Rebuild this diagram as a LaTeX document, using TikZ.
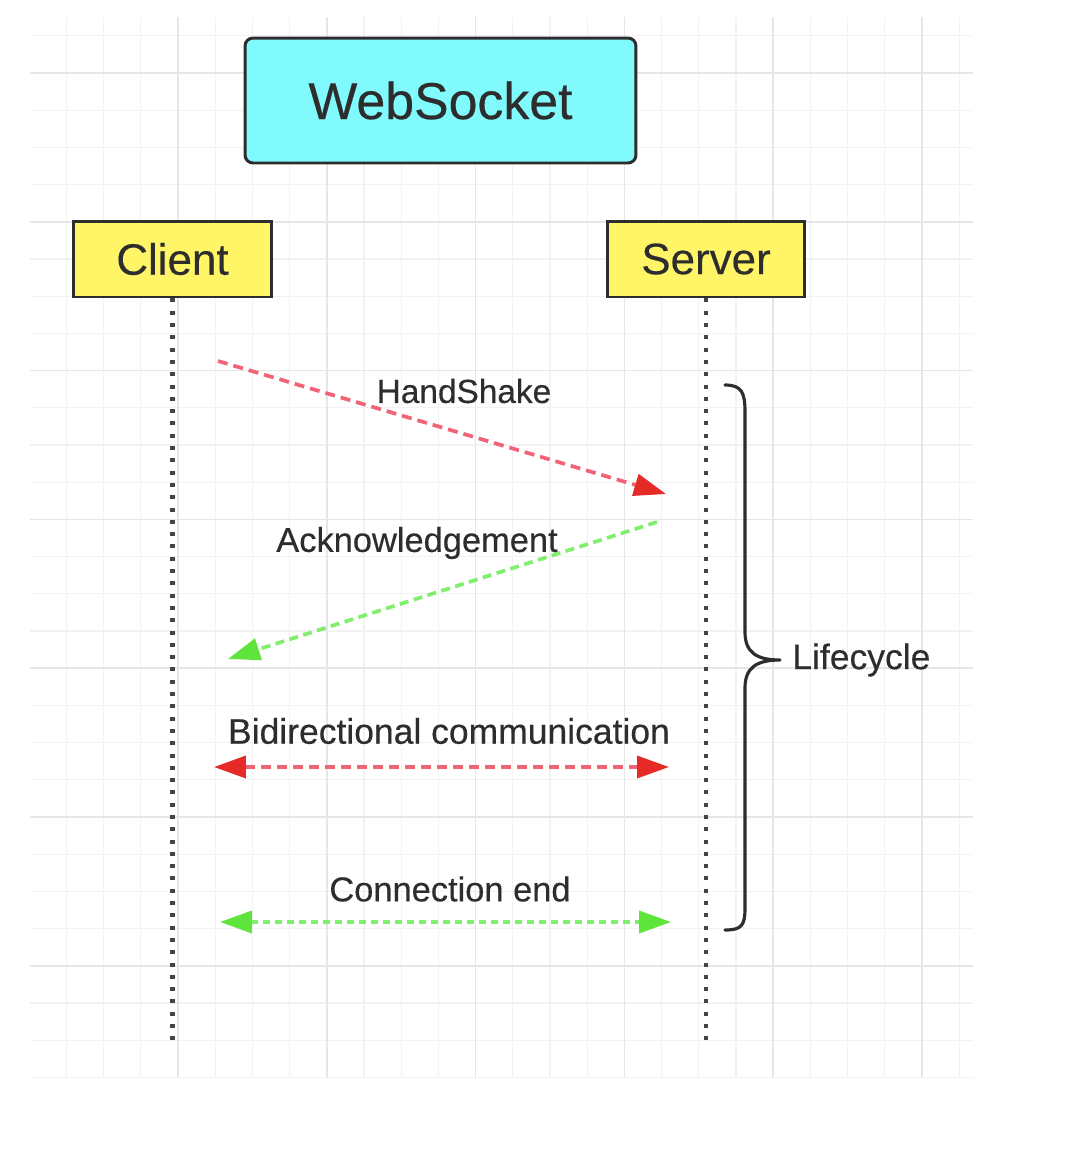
\documentclass[tikz,border=0pt]{standalone}
\usepackage{fontspec}
\setmainfont[FakeBold=0.35]{Liberation Sans}
\usetikzlibrary{arrows.meta}
\definecolor{gridminor}{RGB}{242,242,242}
\definecolor{gridmajor}{RGB}{230,230,230}
\definecolor{boxcyan}{RGB}{128,250,252}
\definecolor{boxyellow}{RGB}{255,245,102}
\definecolor{ink}{RGB}{45,45,45}
\definecolor{dotink}{RGB}{68,68,68}
\definecolor{redline}{RGB}{240,100,118}
\definecolor{redtip}{RGB}{230,42,40}
\definecolor{greenline}{RGB}{130,238,110}
\definecolor{greentip}{RGB}{95,228,60}
\begin{document}
\begin{tikzpicture}[x=0.02cm,y=-0.02cm,
  titlebox/.style={draw=ink, line width=1.7pt, fill=boxcyan, rounded corners=0.16cm,
    minimum width=7.82cm, minimum height=2.5cm, text=ink, font=\fontsize{29.5}{34}\selectfont},
  actorbox/.style={draw=ink, line width=1.7pt, fill=boxyellow,
    minimum width=3.96cm, minimum height=1.52cm, text=ink, font=\fontsize{25}{30}\selectfont},
  lifeline/.style={draw=dotink, line width=2.6pt, dash pattern=on 0.08cm off 0.166cm},
  msglabel/.style={text=ink, font=\fontsize{19.6}{23}\selectfont, inner sep=0pt},
  redmsg/.style={draw=redline, line width=2.1pt, dash pattern=on 0.2cm off 0.12cm,
    -{Triangle[length=0.64cm,width=0.44cm,color=redtip]}},
  greenmsg/.style={draw=greenline, line width=2.1pt, dash pattern=on 0.18cm off 0.11cm,
    -{Triangle[length=0.64cm,width=0.44cm,color=greentip]}},
  redbi/.style={redmsg, {Triangle[length=0.64cm,width=0.44cm,color=redtip]}-{Triangle[length=0.64cm,width=0.44cm,color=redtip]}},
  greenbi/.style={greenmsg, dash pattern=on 0.14cm off 0.1cm, {Triangle[length=0.64cm,width=0.44cm,color=greentip]}-{Triangle[length=0.64cm,width=0.44cm,color=greentip]}},
  bracestyle/.style={draw=ink, line width=1.8pt, line cap=round, line join=round}
]
\useasboundingbox[fill=white] (0,0) rectangle (1082,1154);
% grid
\begin{scope}
\clip (30,17) rectangle (973,1078);
\foreach \k in {-3,...,21} {
  \draw[gridminor, line width=0.6pt] ({178+37.2*\k},17) -- ({178+37.2*\k},1078);
}
\foreach \k in {-1,...,27} {
  \draw[gridminor, line width=0.6pt] (30,{73+37.2*\k}) -- (973,{73+37.2*\k});
}
\foreach \k in {0,...,5} {
  \draw[gridmajor, line width=1pt] ({178+148.8*\k},17) -- ({178+148.8*\k},1078);
}
\foreach \k in {0,...,6} {
  \draw[gridmajor, line width=1pt] (30,{73+148.8*\k}) -- (973,{73+148.8*\k});
}
\end{scope}

% boxes
\node[titlebox] (title) at (440.5,100.5) {WebSocket};
\node[actorbox] (client) at (172.5,259) {Client};
\node[actorbox] (server) at (706,259) {Server};

% lifelines
\coordinate (clientend) at (172.5,1043);
\coordinate (serverend) at (706,1043);
\draw[lifeline] (client.south) -- (clientend);
\draw[lifeline] (server.south) -- (serverend);

% messages
\coordinate (hsA) at (218,361);
\coordinate (hsB) at (666,494);
\draw[redmsg] (hsA) -- (hsB);
\node[msglabel, font=\fontsize{19}{23}\selectfont] (hslabel) at (464,391) {HandShake};

\coordinate (ackA) at (657,522);
\coordinate (ackB) at (228,659);
\draw[greenmsg] (ackA) -- (ackB);
\node[msglabel] (acklabel) at (417,543) {Acknowledgement};

\coordinate (biA) at (214,767);
\coordinate (biB) at (669,767);
\draw[redbi] (biA) -- (biB);
\node[msglabel, font=\fontsize{20.2}{24}\selectfont] (bilabel) at (449,731) {Bidirectional communication};

\coordinate (endA) at (220,922);
\coordinate (endB) at (671,922);
\draw[greenbi] (endA) -- (endB);
\node[msglabel] (endlabel) at (450,889) {Connection end};

% brace
\coordinate (braceTop) at (725,385);
\coordinate (braceTip) at (780,660);
\coordinate (braceBot) at (725,930);
\draw[bracestyle] (braceTop) .. controls (742,385) and (745,393) .. (745,412)
  -- (745,632) .. controls (745,652) and (756,660) .. (braceTip)
  .. controls (756,660) and (745,668) .. (745,688)
  -- (745,908) .. controls (745,925) and (742,930) .. (braceBot);
\node[msglabel, font=\fontsize{20.2}{24}\selectfont, anchor=west] (lifecycle) at (792,660) {Lifecycle};
\end{tikzpicture}
\end{document}
